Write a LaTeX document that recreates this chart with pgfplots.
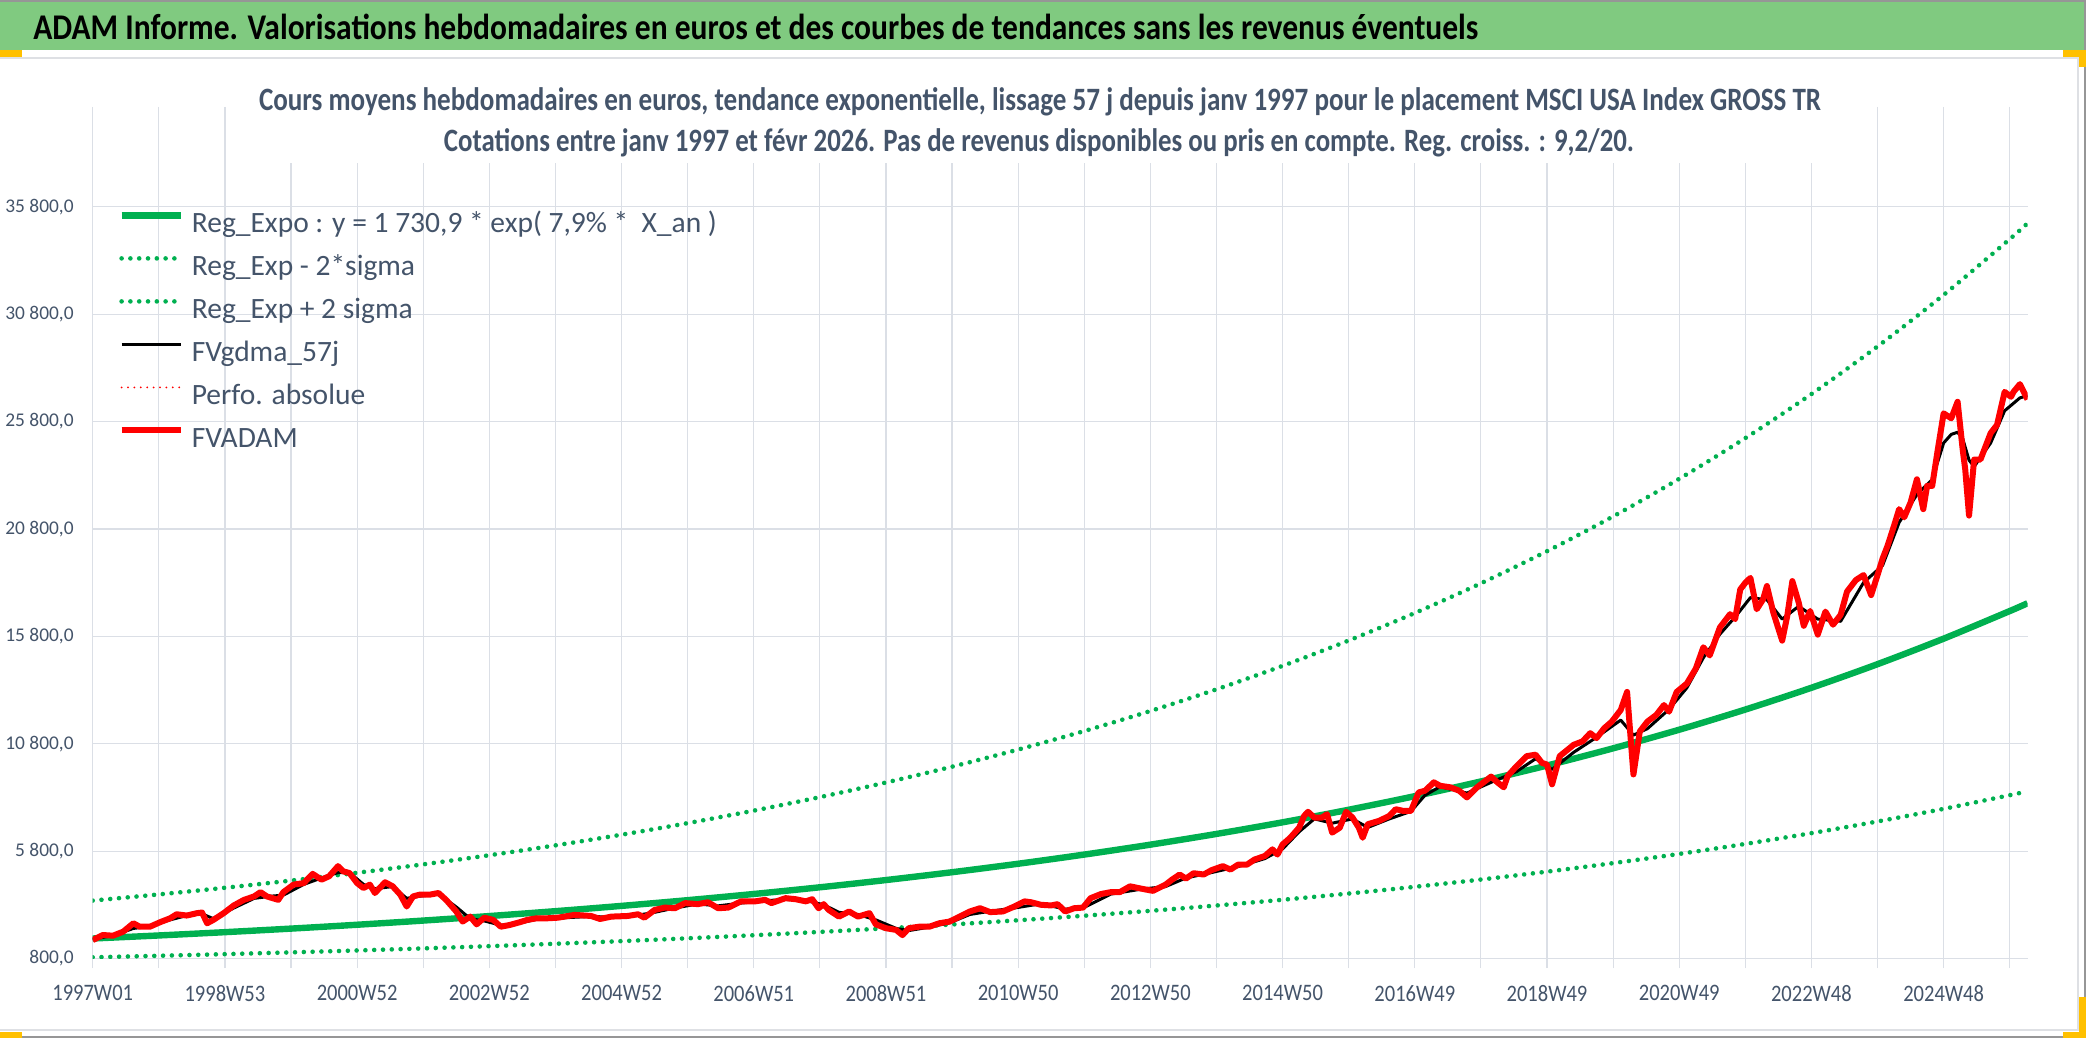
\documentclass[border=0pt]{standalone}
\usepackage{pgfplots}
\pgfplotsset{compat=1.18}
\usepackage{fontspec}
\setmainfont{Carlito}
\newfontfamily\condfont{Carlito}[FakeStretch=0.87]
\definecolor{hdr}{RGB}{128,202,128}
\definecolor{ttl}{RGB}{68,84,106}
\definecolor{grd}{RGB}{219,223,230}
\definecolor{xgreen}{RGB}{0,176,80}
\definecolor{handle}{RGB}{255,192,0}
\definecolor{lgray}{RGB}{222,224,228}
\definecolor{bord}{RGB}{150,150,150}
\begin{document}
\begin{tikzpicture}
\useasboundingbox (0,0) rectangle (1043pt,519pt);
\begin{scope}[shift={(0pt,519pt)},x=0.5pt,y=-0.5pt]
\fill[white] (0,0) rectangle (2086,1038);
\fill[hdr] (0,2) rectangle (2086,50);
\draw[lgray, line width=1pt] (0,58.3) -- (2078,58.3) -- (2078,1030) -- (0,1030);
\draw[bord, line width=1pt] (0,1) -- (2086,1);
\draw[bord, line width=1pt] (0,1037) -- (2086,1037);
\draw[bord, line width=1pt] (2085,0) -- (2085,1038);
\fill[handle] (0,50) rectangle (22,57);
\fill[handle] (2063,50) rectangle (2086,57);
\fill[handle] (2079,50) rectangle (2086,67);
\fill[handle] (0,1032) rectangle (22,1038);
\fill[handle] (2063,1032) rectangle (2086,1038);
\fill[handle] (2079,997) rectangle (2086,1038);
\node[anchor=base west, inner sep=0pt] at (33,40) {\resizebox{722.5pt}{\height}{\bfseries\fontsize{18.1}{18}\selectfont ADAM Informe. Valorisations hebdomadaires en euros et des courbes de tendances sans les revenus éventuels}};
\end{scope}
\begin{axis}[
  at={(46.35pt,39.75pt)}, anchor=south west,
  scale only axis, width=967.4pt, height=421pt,
  xmin=0, xmax=1522, ymin=800, ymax=40000,
  scaled y ticks=false, scaled x ticks=false,
  axis line style={draw=none},
  grid=major, grid style={grd, line width=0.6pt},
  xtick={0,52,...,1508},
  xticklabels={1997W01,{},1998W53,{},2000W52,{},2002W52,{},2004W52,{},2006W51,{},2008W51,{},2010W50,{},2012W50,{},2014W50,{},2016W49,{},2018W49,{},2020W49,{},2022W48,{},2024W48,{}},
  ytick={800,5800,10800,15800,20800,25800,30800,35800},
  yticklabels={{800,0},{5 800,0},{10 800,0},{15 800,0},{20 800,0},{25 800,0},{30 800,0},{35 800,0}},
  tick align=outside,
  xtick style={grd, line width=0.6pt},
  major tick length=4.75pt,
  ytick style={draw=none},
  xticklabel style={anchor=north, inner sep=0pt, yshift=-8.5pt, text=ttl, font=\condfont\fontsize{11.8}{12}\selectfont},
  yticklabel style={anchor=east, inner sep=0pt, xshift=-4.6pt, text=ttl, font=\fontsize{9.7}{10}\selectfont},
  legend cell align=left,
  legend image code/.code={\draw[#1] (0pt,4.6pt) -- (29.5pt,4.6pt);},
  legend style={at={(axis description cs:0.01308,0.8893)}, anchor=north west, draw=none, fill=none, inner sep=0pt, row sep=7pt, column sep=4pt, text=ttl, font=\fontsize{14.75}{15}\selectfont, nodes={inner sep=0pt, text height=11pt, text depth=3.5pt}},
]
\addplot[xgreen, line width=3.2pt, smooth] coordinates {
(0,1730.9) (52,1872.7) (104,2026.1) (156,2192.0) (208,2371.6) (260,2565.8) (312,2776.0) (364,3003.4) (416,3249.4) (468,3515.6) (520,3803.5) (572,4115.1) (624,4452.1) (676,4816.8) (728,5211.4) (780,5638.2) (832,6100.1) (884,6599.7) (936,7140.3) (988,7725.2) (1040,8357.9) (1092,9042.5) (1144,9783.2) (1196,10584.5) (1248,11451.5) (1300,12389.5) (1352,13404.3) (1404,14502.2) (1456,15690.1) (1508,16975.4) (1522,17339.7)};
\addlegendentry{Reg\_Expo : y = 1 730,9 * exp( 7,9\% *\ \ X\_an )}
\addplot[xgreen, line width=2.3pt, line cap=round, dash pattern=on 0pt off 4.4pt, smooth] coordinates {
(0,856.9) (52,927.1) (104,1003.0) (156,1085.2) (208,1174.1) (260,1270.2) (312,1374.3) (364,1486.8) (416,1608.6) (468,1740.4) (520,1882.9) (572,2037.2) (624,2204.0) (676,2384.6) (728,2579.9) (780,2791.2) (832,3019.8) (884,3267.2) (936,3534.8) (988,3824.3) (1040,4137.6) (1092,4476.5) (1144,4843.2) (1196,5239.8) (1248,5669.1) (1300,6133.4) (1352,6635.8) (1404,7179.3) (1456,7767.4) (1508,8403.7) (1522,8584.0)};
\addlegendentry{Reg\_Exp - 2*sigma}
\addplot[xgreen, line width=2.3pt, line cap=round, dash pattern=on 0pt off 4.4pt, smooth] coordinates {
(0,3496.4) (52,3782.9) (104,4092.7) (156,4427.8) (208,4790.6) (260,5182.9) (312,5607.5) (364,6066.9) (416,6563.8) (468,7101.5) (520,7683.1) (572,8312.5) (624,8993.2) (676,9729.9) (728,10527.0) (780,11389.2) (832,12322.2) (884,13331.4) (936,14423.4) (988,15604.9) (1040,16883.0) (1092,18265.9) (1144,19762.1) (1196,21380.7) (1248,23132.0) (1300,25026.8) (1352,27076.7) (1404,29294.4) (1456,31694.0) (1508,34290.3) (1522,35026.2)};
\addlegendentry{Reg\_Exp + 2 sigma}
\addplot[black, line width=1.5pt, line join=round] coordinates {
(0,1700) (16,1870) (32,2200) (45,2300) (61,2600) (74,2800) (86,2880) (95,2650) (111,3150) (127,3600) (140,3700) (150,3750) (166,4250) (180,4550) (193,4800) (202,4800) (213,4250) (222,4050) (236,4150) (247,3600) (257,3700) (272,3800) (286,3200) (297,2650) (308,2550) (321,2350) (336,2450) (349,2620) (366,2680) (392,2760) (408,2720) (429,2820) (442,2950) (458,3150) (476,3340) (492,3250) (510,3380) (529,3490) (545,3550) (561,3500) (575,3300) (587,2950) (602,2850) (616,2600) (632,2200) (642,2100) (658,2260) (674,2460) (690,2850) (706,3000) (725,3150) (746,3350) (765,3100) (779,3150) (801,3800) (825,4030) (844,4150) (860,4550) (880,4800) (901,5080) (922,5450) (936,5900) (949,6700) (961,7300) (975,7100) (991,7300) (1003,6900) (1020,7300) (1037,7650) (1048,8400) (1060,8800) (1081,8500) (1100,9000) (1120,9500) (1135,10100) (1148,9600) (1165,10400) (1183,11100) (1202,11900) (1212,11200) (1223,11500) (1240,12400) (1254,13400) (1267,14800) (1280,15900) (1292,16700) (1304,17600) (1317,17500) (1329,16600) (1342,17200) (1357,16600) (1375,16500) (1393,18300) (1408,19100) (1421,21100) (1435,22400) (1447,23100) (1456,24800) (1462,25200) (1467,25300) (1471,25000) (1476,24000) (1480,23700) (1493,24800) (1504,26300) (1516,26900) (1522,27000)};
\addlegendentry{FVgdma\_57j}
\addlegendimage{red, line width=1pt, line cap=round, dash pattern=on 0pt off 3.2pt}
\addlegendentry{Perfo. absolue}
\addplot[red, line width=3pt, line join=round] coordinates {
(0,1659) (8,1893) (16,1862) (24,2050) (32,2440) (37,2280) (45,2280) (53,2490) (61,2674) (66,2860) (74,2800) (82,2910) (86,2940) (90,2440) (95,2600) (103,2910) (111,3270) (119,3530) (127,3690) (132,3890) (137,3690) (146,3530) (150,3890) (158,4240) (166,4310) (173,4740) (180,4470) (186,4630) (193,5100) (197,4860) (202,4780) (208,4310) (213,4080) (218,4240) (222,3850) (230,4350) (236,4160) (242,3770) (247,3220) (252,3690) (257,3770) (265,3770) (272,3850) (278,3530) (286,2990) (291,2520) (297,2750) (302,2390) (308,2700) (315,2600) (321,2280) (328,2360) (336,2490) (342,2600) (349,2670) (357,2670) (366,2700) (379,2830) (392,2780) (399,2640) (408,2750) (421,2780) (429,2860) (434,2700) (442,3060) (450,3170) (458,3140) (466,3380) (476,3330) (484,3420) (492,3140) (500,3170) (510,3460) (521,3460) (529,3530) (534,3380) (545,3610) (553,3560) (561,3460) (566,3560) (571,3140) (575,3330) (579,3060) (587,2750) (595,2990) (602,2750) (611,2910) (616,2390) (624,2210) (632,2130) (637,1890) (642,2210) (650,2280) (658,2280) (666,2440) (674,2520) (682,2750) (690,2990) (698,3140) (706,2960) (716,2990) (725,3220) (733,3460) (738,3420) (746,3300) (754,3270) (759,3330) (765,2990) (772,3140) (779,3170) (785,3610) (793,3800) (801,3890) (808,3890) (816,4160) (825,4050) (834,3950) (844,4240) (849,4470) (855,4710) (860,4520) (866,4770) (874,4710) (880,4910) (889,5100) (895,4940) (901,5170) (908,5170) (914,5410) (922,5570) (928,5880) (932,5640) (936,6110) (942,6420) (949,6890) (953,7440) (956,7630) (961,7360) (967,7360) (971,7520) (975,6660) (981,6890) (986,7630) (991,7360) (996,6890) (999,6420) (1003,7050) (1012,7210) (1020,7440) (1025,7750) (1031,7670) (1037,7670) (1043,8530) (1048,8610) (1055,9000) (1060,8840) (1068,8770) (1075,8610) (1081,8300) (1089,8770) (1100,9270) (1105,9000) (1110,8770) (1113,9290) (1120,9750) (1128,10220) (1135,10290) (1140,9910) (1144,9830) (1148,8910) (1154,10220) (1165,10750) (1172,10910) (1178,11290) (1183,11060) (1189,11520) (1195,11830) (1202,12370) (1207,13210) (1212,9370) (1217,11370) (1223,11830) (1230,12140) (1236,12600) (1240,12290) (1246,13210) (1254,13600) (1261,14290) (1267,15290) (1272,14910) (1280,16210) (1288,16830) (1292,16600) (1296,17980) (1300,18290) (1304,18520) (1309,17060) (1314,17520) (1317,18140) (1322,16910) (1329,15600) (1333,16750) (1337,18370) (1342,17370) (1346,16290) (1351,16980) (1357,15880) (1363,16950) (1369,16340) (1375,16800) (1380,17880) (1387,18420) (1393,18650) (1399,17720) (1404,18650) (1408,19420) (1412,20030) (1417,20950) (1421,21720) (1425,21340) (1430,22030) (1435,23110) (1440,21720) (1443,22800) (1447,22800) (1451,24340) (1456,26180) (1462,25950) (1467,26720) (1471,24490) (1473,23570) (1476,21420) (1480,24030) (1485,24030) (1493,25260) (1498,25640) (1504,27180) (1509,26950) (1511,27180) (1516,27540) (1522,26830)};
\addlegendentry{FVADAM}
\end{axis}
\begin{scope}[shift={(0pt,519pt)},x=0.5pt,y=-0.5pt]
\fill[white] (255,60) rectangle (1830,163);
\node[anchor=base, inner sep=0pt, text=ttl] at (1040,111) {\resizebox{781pt}{\height}{\bfseries\fontsize{16.3}{16}\selectfont Cours moyens hebdomadaires en euros, tendance exponentielle, lissage 57 j depuis janv 1997 pour le placement MSCI USA Index GROSS TR}};
\node[anchor=base, inner sep=0pt, text=ttl] at (1039,151.7) {\resizebox{595pt}{\height}{\bfseries\fontsize{16.3}{16}\selectfont Cotations entre janv 1997 et févr 2026. Pas de revenus disponibles ou pris en compte. Reg. croiss. : 9,2/20.}};
\end{scope}
\end{tikzpicture}
\end{document}
